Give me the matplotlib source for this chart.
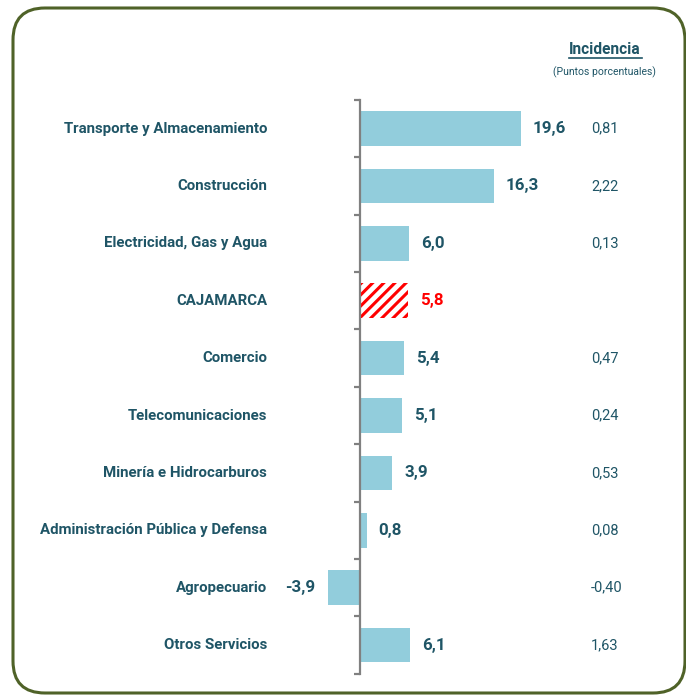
import matplotlib
matplotlib.use('Agg')
import matplotlib.pyplot as plt
from matplotlib.patches import FancyBboxPatch
from matplotlib.lines import Line2D

# datos
sectores = ['Transporte y Almacenamiento', 'Construcción', 'Electricidad, Gas y Agua',
            'CAJAMARCA', 'Comercio', 'Telecomunicaciones', 'Minería e Hidrocarburos',
            'Administración Pública y Defensa', 'Agropecuario', 'Otros Servicios']
variacion = [19.6, 16.3, 6.0, 5.8, 5.4, 5.1, 3.9, 0.8, -3.9, 6.1]
incidencia = ['0,81', '2,22', '0,13', '', '0,47', '0,24', '0,53', '0,08', '-0,40', '1,63']

azul = '#92CDDC'
texto = '#1F5566'
rojo = '#FF0000'

plt.rcParams['font.family'] = ['Roboto', 'DejaVu Sans']
plt.rcParams['hatch.linewidth'] = 2.2

W, H = 686, 695
fig = plt.figure(figsize=(W / 100, H / 100), dpi=100)
ax = fig.add_axes([0, 0, 1, 1])

# escala: eje en x=360 px, 8.21 px por punto; categorias cada 57.4 px desde y=128
px = 8.21
ax.set_xlim(-360 / px, (W - 360) / px)
ax.set_ylim((H - 128.5) / 57.4, -128.5 / 57.4)

for i, v in enumerate(variacion):
    if sectores[i] == 'CAJAMARCA':
        ax.barh(i, v, height=0.6, color='white', edgecolor=rojo, hatch='///', linewidth=0)
    else:
        ax.barh(i, v, height=0.6, color=azul, linewidth=0)

for i, (s, v) in enumerate(zip(sectores, variacion)):
    ax.annotate(s, xy=(0, i), xytext=(-93, 0), textcoords='offset pixels',
                ha='right', va='center', fontsize=10.8, fontweight='bold', color=texto)
    lab = f'{v:.1f}'.replace('.', ',')
    col = rojo if s == 'CAJAMARCA' else texto
    if v >= 0:
        ax.annotate(lab, xy=(v, i), xytext=(12, 0), textcoords='offset pixels',
                    ha='left', va='center', fontsize=12.2, fontweight='bold', color=col)
    else:
        ax.annotate(lab, xy=(v, i), xytext=(-13, 0), textcoords='offset pixels',
                    ha='right', va='center', fontsize=12.2, fontweight='bold', color=col)
    ax.text(591 / W, i, incidencia[i], transform=ax.get_yaxis_transform(),
            ha='left', va='center', fontsize=10.5, color=texto)

# eje vertical con marcas entre categorias
for s in ['top', 'right', 'bottom']:
    ax.spines[s].set_visible(False)
ax.spines['left'].set_position(('data', 0))
ax.spines['left'].set_bounds(-0.5, len(sectores) - 0.5)
ax.spines['left'].set_color('#808080')
ax.spines['left'].set_linewidth(1.6)
ax.set_yticks([k - 0.5 for k in range(len(sectores) + 1)])
ax.set_yticklabels([])
ax.tick_params(axis='y', direction='out', length=4, width=1.6, color='#808080')
ax.set_xticks([])
ax.patch.set_visible(False)

# titulo incidencia
fig.text(605 / W, 1 - 49 / H, 'Incidencia', ha='center', va='center',
         fontsize=11.2, fontweight='bold', color=texto)
fig.add_artist(Line2D([569 / W, 642 / W], [1 - 58 / H, 1 - 58 / H], color=texto, linewidth=1.2))
fig.text(604.5 / W, 1 - 72 / H, '(Puntos porcentuales)', ha='center', va='center',
         fontsize=7.5, color=texto)

# marco redondeado
marco = FancyBboxPatch((13, 2), 672, 685, boxstyle='round,pad=0,rounding_size=32',
                       transform=None, fill=False, edgecolor='#4F6228', linewidth=2.2)
fig.add_artist(marco)

fig.savefig('out.png', dpi=100)
